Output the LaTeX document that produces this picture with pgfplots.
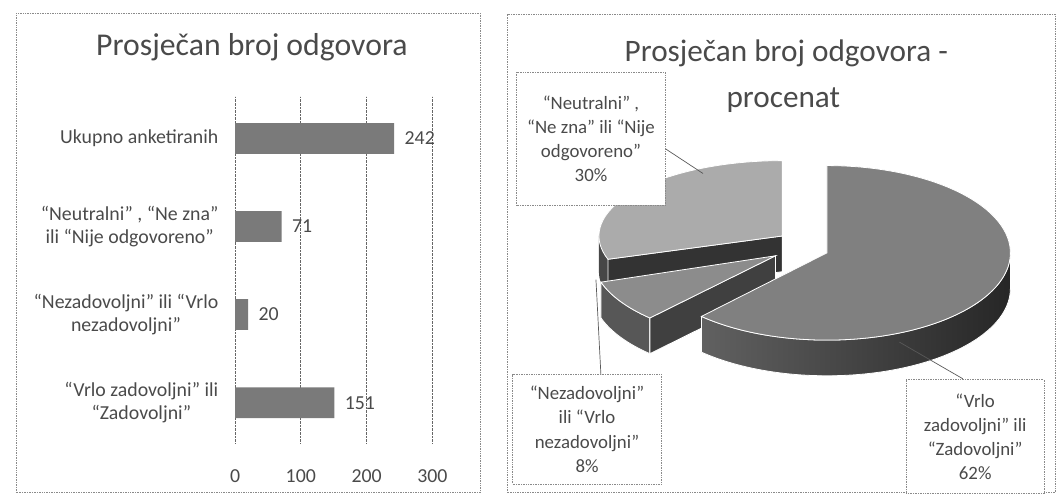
\documentclass[border=0pt]{standalone}
\usepackage{pgfplots}
\pgfplotsset{compat=1.18}
\usepackage{pgfplotstable}
\usepackage{fontspec}
\setmainfont{Carlito}
\definecolor{txt}{HTML}{4A4A4A}
\definecolor{frm}{HTML}{8A8A8A}

% bar chart data (category index, value)
\pgfplotstableread{
idx value
0 151
1 20
2 71
3 242
}\bartable

% pie chart data (percent)
\pgfplotstableread{
pct
62
8
30
}\pietable

\begin{document}
\pgfplotstablegetelem{0}{pct}\of\pietable \let\pA\pgfplotsretval
\pgfplotstablegetelem{1}{pct}\of\pietable \let\pB\pgfplotsretval
\pgfplotstablegetelem{2}{pct}\of\pietable \let\pC\pgfplotsretval
\pgfmathsetmacro\aA{90-3.6*\pA}   % end of big slice
\pgfmathsetmacro\aB{\aA-3.6*\pB}  % end of small slice
\pgfmathsetmacro\aAp{\aA+360}
\pgfmathsetmacro\aBp{\aB+360}
\begin{tikzpicture}[x=1pt,y=1pt]
\useasboundingbox (0,0) rectangle (1058,501);
% panel frames
\draw[frm, densely dotted, line width=0.7pt] (7,4) rectangle (475,488);
\draw[frm, densely dotted, line width=0.7pt] (503,4) rectangle (1055,487);
% titles
\node[anchor=base, text=txt, font=\fontsize{32}{38}\selectfont] at (245,445) {Prosječan broj odgovora};
\node[anchor=base, text=txt, font=\fontsize{31.5}{38}\selectfont] at (784,439) {Prosječan broj odgovora -};
\node[anchor=base, text=txt, font=\fontsize{31.5}{38}\selectfont] at (781,393) {procenat};

% ---------- bar chart ----------
\begin{axis}[
  at={(228pt,54pt)}, anchor=south west,
  scale only axis, width=199pt, height=350pt,
  xbar, bar width=31pt,
  xmin=0, xmax=300, ymin=-0.46, ymax=3.48,
  xtick={0,100,200,300},
  ytick={0,1,2,3},
  yticklabels={{“Vrlo zadovoljni” ili\\“Zadovoljni”},
               {“Nezadovoljni” ili “Vrlo\\nezadovoljni”},
               {“Neutralni” , “Ne zna”\\ili “Nije odgovoreno”},
               {Ukupno anketiranih}},
  axis line style={draw=none},
  tick style={draw=none},
  xmajorgrids,
  grid style={black!60, densely dotted, line width=0.7pt},
  /pgf/number format/assume math mode=true,
  ticklabel style={text=txt, font=\fontsize{20}{23}\selectfont},
  xticklabel style={yshift=-23pt},
  yticklabel style={align=center, xshift=-9pt},
  nodes near coords,
  nodes near coords align={horizontal},
  every node near coord/.append style={text=txt, font=\fontsize{20}{23}\selectfont, xshift=7pt},
]
\addplot[fill=black!52, draw=none] table[x=value, y=idx] {\bartable};
\end{axis}

% ---------- pie chart ----------
\begin{axis}[
  at={(503pt,0pt)}, anchor=south west,
  scale only axis, width=555pt, height=501pt,
  xmin=503, xmax=1058, ymin=0, ymax=501,
  hide axis, clip=false,
]
% 30% slice (back, seen flatter)
\fill[black!72] (axis cs:780,263) ++(180:185pt and 76pt) arc[start angle=180, end angle=\aBp, x radius=185pt, y radius=76pt] -- ++(0pt,-36pt) arc[start angle=\aBp, end angle=180, x radius=185pt, y radius=76pt] -- cycle;
\filldraw[fill=black!80, draw=white, line width=0.8pt] (axis cs:780,263) -- ++(\aBp:185pt and 76pt) -- ++(0pt,-36pt) -- ++({\aBp+180}:185pt and 76pt) -- cycle;
\filldraw[fill=black!33, draw=white, line width=0.8pt] (axis cs:780,263) -- ++(90:185pt and 76pt) arc[start angle=90, end angle=\aBp, x radius=185pt, y radius=76pt] -- cycle;
% 8% slice
\filldraw[fill=black!66, draw=white, line width=0.8pt] (axis cs:773,243) ++(\aBp:185pt and 86pt) arc[start angle=\aBp, end angle=\aAp, x radius=185pt, y radius=86pt] -- ++(0pt,-36pt) arc[start angle=\aAp, end angle=\aBp, x radius=185pt, y radius=86pt] -- cycle;
\filldraw[fill=black!75, draw=white, line width=0.8pt] (axis cs:773,243) -- ++(\aAp:185pt and 86pt) -- ++(0pt,-36pt) -- ++({\aAp+180}:185pt and 86pt) -- cycle;
\filldraw[fill=black!45, draw=white, line width=0.8pt] (axis cs:773,243) -- ++(\aBp:185pt and 86pt) arc[start angle=\aBp, end angle=\aAp, x radius=185pt, y radius=86pt] -- cycle;
% 62% slice (front)
\shadedraw[left color=black!62, right color=black!85, draw=white, line width=0.8pt] (axis cs:825,246) ++(\aA:185pt and 88pt) arc[start angle=\aA, end angle=0, x radius=185pt, y radius=88pt] -- ++(0pt,-36pt) arc[start angle=0, end angle=\aA, x radius=185pt, y radius=88pt] -- cycle;
\filldraw[fill=black!50, draw=white, line width=0.8pt] (axis cs:825,246) -- ++(\aA:185pt and 88pt) arc[start angle=\aA, end angle=90, x radius=185pt, y radius=88pt] -- cycle;
% leader lines
\draw[black!65, line width=0.7pt] (axis cs:662,351) -- (axis cs:700,326);
\draw[black!65, line width=0.7pt] (axis cs:597,123) -- (axis cs:592,219);
\draw[black!65, line width=0.7pt] (axis cs:898,156) -- (axis cs:962,119);
% labels
\node[draw=frm, densely dotted, line width=0.7pt, fill=white, align=center, text=txt,
      font=\fontsize{19}{24.5}\selectfont, minimum width=150pt, minimum height=134pt, inner sep=0pt]
  at (axis cs:587,361) {“Neutralni” ,\\“Ne zna” ili “Nije\\odgovoreno”\\30\%};
\node[draw=frm, densely dotted, line width=0.7pt, fill=white, align=center, text=txt,
      font=\fontsize{19}{24.5}\selectfont, minimum width=150pt, minimum height=110pt, inner sep=0pt]
  at (axis cs:583,68) {“Nezadovoljni”\\ili “Vrlo\\nezadovoljni”\\8\%};
\node[draw=frm, densely dotted, line width=0.7pt, fill=white, align=center, text=txt,
      font=\fontsize{19}{24.5}\selectfont, minimum width=139pt, minimum height=115pt, inner sep=0pt]
  at (axis cs:974.5,60.5) {“Vrlo\\zadovoljni” ili\\“Zadovoljni”\\62\%};
\end{axis}
\end{tikzpicture}
\end{document}
